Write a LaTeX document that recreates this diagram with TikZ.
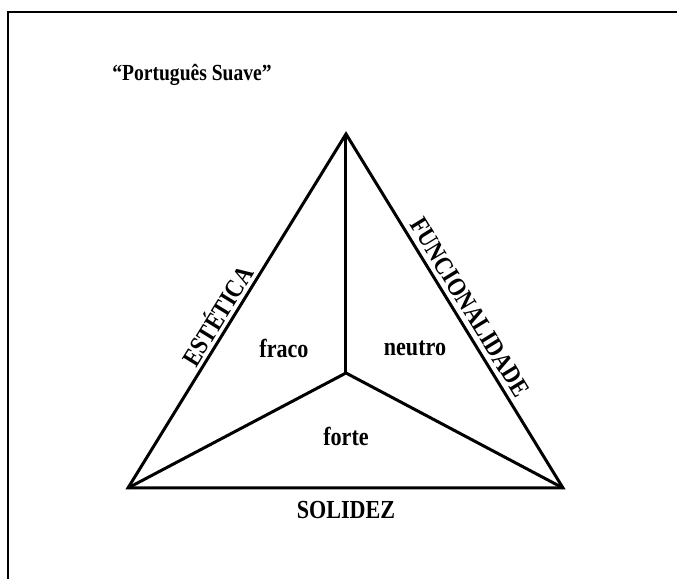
\documentclass[tikz,border=0pt]{standalone}
\usepackage{fontspec}
\setmainfont{Liberation Serif}[FakeStretch=0.85]
\usetikzlibrary{positioning}

\begin{document}
\begin{tikzpicture}[x=0.5pt,y=0.5pt,
    lbl/.style={font=\fontsize{13}{15}\selectfont\bfseries,inner sep=1pt},
    edge/.style={line width=1.5pt,line join=miter}]
    \useasboundingbox (0,0) rectangle (677,579);
    \draw[line width=0.8pt] (8,0) -- (8,567) -- (677,567); % frame
    \node[lbl,font=\fontsize{11.5}{13}\selectfont\bfseries] (title) at (192,504) {“Português Suave”};
    \coordinate (t) at (346,445);
    \coordinate (l) at (128,91);
    \coordinate (r) at (563,91);
    \coordinate (m) at (346,206);
    \draw[edge] (l) -- (t) -- (r) -- cycle;
    \draw[edge] (t) -- (m);
    \draw[edge] (l) -- (m) -- (r);
    \path (l) -- (t) node[lbl,pos=0.465,sloped,above=1pt] (est) {ESTÉTICA};
    \path (t) -- (r) node[lbl,pos=0.512,sloped,above=2pt] (fun) {FUNCIONALIDADE};
    \node[lbl] (sol) at (346,69) {SOLIDEZ};
    \node[lbl] (fraco) at (284,231) {fraco};
    \node[lbl] (neutro) at (415,231) {neutro};
    \node[lbl] (forte) at (346,143) {forte};
\end{tikzpicture}
\end{document}
